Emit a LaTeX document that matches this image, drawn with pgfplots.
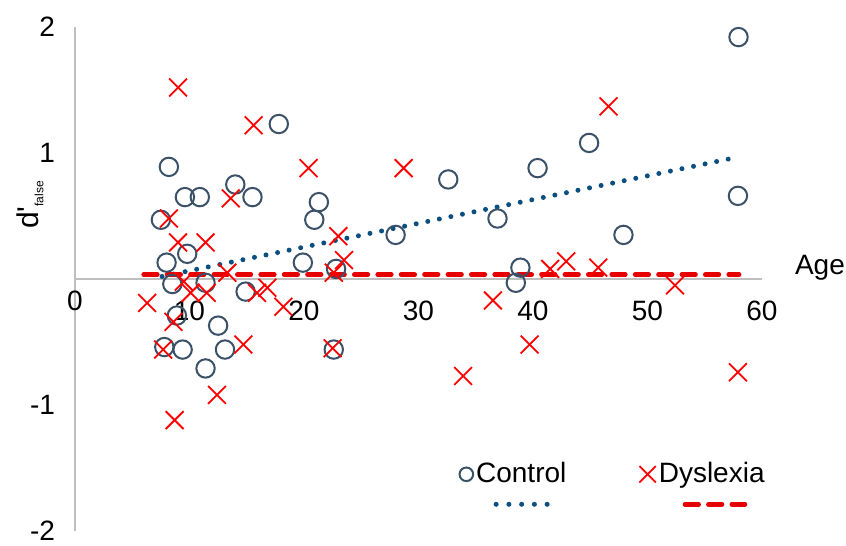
\documentclass[border=0pt]{standalone}
\usepackage{pgfplots}
\pgfplotsset{compat=1.18}
\usepackage{fontspec}
\setmainfont{Liberation Sans}
\definecolor{ctrl}{RGB}{59,81,104}
\definecolor{trendc}{RGB}{11,79,128}
\definecolor{dys}{RGB}{255,0,0}
\definecolor{trendd}{RGB}{230,0,0}
\definecolor{axgray}{RGB}{191,191,191}
\pgfplotsset{
  ctrlleg/.style={legend image code/.code={%
    \draw[##1, mark size=3.4pt] plot coordinates {(3.6pt,0pt)};
    \draw[overlay, trendc, line width=2.5pt, line cap=round, dash pattern=on 0pt off 6.375pt] (18.5pt,-15pt) -- (44pt,-15pt);
  }},
  dysleg/.style={legend image code/.code={%
    \draw[##1, mark size=5.8pt] plot coordinates {(4.3pt,0pt)};
    \draw[overlay, trendd, line width=2.3pt, line cap=round, dash pattern=on 6.8pt off 4.9pt] (23pt,-15pt) -- (53pt,-15pt);
  }},
}
\begin{document}
\begin{tikzpicture}
\begin{axis}[
  scale only axis, width=343.5pt, height=252pt,
  xmin=0, xmax=60, ymin=-2, ymax=2,
  axis lines=middle,
  axis line style={-, draw=axgray, line width=0.6pt},
  xtick={10,20,30,40,50,60}, ytick={-2,-1,0,1,2},
  extra x ticks={0},
  extra x tick style={xticklabel style={yshift=5pt}},
  major tick length=0pt,
  /pgf/number format/assume math mode=true,
  tick label style={font=\fontsize{14}{16}\selectfont},
  xticklabel style={anchor=north, yshift=-7.5pt},
  yticklabel style={anchor=east, xshift=-6.5pt},
  xlabel={Age},
  every axis x label/.style={at={(rel axis cs:1.0844,0.5218)}, anchor=center, font=\fontsize{14}{16}\selectfont},
  ylabel={d\textquotesingle\raisebox{-2.5pt}{\fontsize{6}{7}\selectfont false}},
  every axis y label/.style={at={(rel axis cs:-0.0655,0.647)}, anchor=center, rotate=90, font=\fontsize{15}{17}\selectfont},
  clip=false,
  legend style={draw=none, fill=none, inner sep=0pt, at={(axis cs:33.55,-1.55)}, anchor=west,
    font=\fontsize{14}{16}\selectfont, nodes={inner sep=1.5pt},
    /tikz/every even column/.append style={column sep=35pt}},
  legend columns=2,
]
\coordinate (ll) at (rel axis cs:0,0);
\coordinate (ur) at (rel axis cs:1,1);
\addplot[only marks, mark=o, mark size=4.6pt, mark options={draw=ctrl, line width=1pt}, ctrlleg]
coordinates {
(57.95,1.92) (57.9,0.66) (44.9,1.08) (40.4,0.88) (32.6,0.79) (36.9,0.48)
(28.0,0.35) (47.9,0.35) (38.9,0.09) (38.5,-0.03) (17.8,1.23) (21.3,0.61)
(20.9,0.47) (14.0,0.75) (15.5,0.65) (9.6,0.65) (10.9,0.65) (8.2,0.89)
(7.5,0.47) (9.8,0.20) (8.0,0.13) (19.9,0.13) (22.8,0.08) (8.5,-0.04)
(11.4,-0.03) (14.9,-0.10) (8.9,-0.29) (12.5,-0.37) (7.8,-0.54) (9.4,-0.56)
(13.1,-0.56) (11.4,-0.71) (22.6,-0.56)
};
\addlegendentry{Control}
\addplot[only marks, mark=x, mark size=6.3pt, mark options={draw=dys, line width=0.9pt}, dysleg]
coordinates {
(9.0,1.52) (15.6,1.22) (20.4,0.88) (28.7,0.88) (46.6,1.37) (13.6,0.64)
(8.2,0.48) (9.0,0.29) (11.4,0.29) (23.0,0.34) (23.5,0.15) (22.6,0.05)
(13.3,0.05) (6.3,-0.19) (9.5,-0.02) (10.1,-0.11) (11.5,-0.11) (15.9,-0.11)
(16.8,-0.07) (18.2,-0.22) (8.6,-0.34) (7.7,-0.56) (14.7,-0.52) (22.5,-0.55)
(12.4,-0.92) (8.7,-1.12) (36.5,-0.17) (41.5,0.08) (42.9,0.14) (45.7,0.09)
(52.4,-0.05) (39.7,-0.52) (33.9,-0.77) (57.9,-0.74)
};
\addlegendentry{Dyslexia}
\addplot[forget plot, trendc, line width=2.5pt, line cap=round, dash pattern=on 0pt off 5.9pt]
  coordinates {(7.6,0.02) (57.5,0.96)};
\addplot[forget plot, trendd, line width=2.3pt, line cap=round, dash pattern=on 6.8pt off 4.9pt]
  coordinates {(6.0,0.035) (58.0,0.035)};
\end{axis}
\pgfresetboundingbox
\path ([shift={(-37.5pt,-7.5pt)}]ll) rectangle ([shift={(42pt,13.5pt)}]ur);
\end{tikzpicture}
\end{document}
